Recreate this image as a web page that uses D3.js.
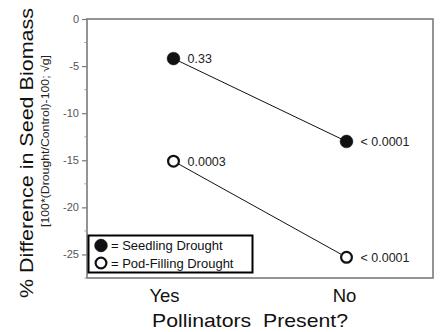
<!DOCTYPE html>
<html>
<head>
<meta charset="utf-8">
<script src="https://cdn.jsdelivr.net/npm/d3@7"></script>
<style>
  body { margin: 0; background: #fff; }
  text { font-family: "Liberation Sans", Arial, sans-serif; }
</style>
</head>
<body>
<div id="chart"></div>
<script>
// data
var categories = ["Yes", "No"];
var seedlingValues = [-4.2, -13.0];
var podFillingValues = [-15.1, -25.3];
var seedlingLabels = ["0.33", "< 0.0001"];
var podFillingLabels = ["0.0003", "< 0.0001"];
var yTicks = [0, -5, -10, -15, -20, -25];
var yMinorTicks = [-2.5, -7.5, -12.5, -17.5, -22.5, -27.5];

var width = 440, height = 332;
var margin = { top: 19, right: 7, bottom: 54, left: 87 };

var svg = d3.select("#chart").append("svg")
    .attr("width", width)
    .attr("height", height);

var x = d3.scalePoint()
    .domain(categories)
    .range([margin.left, width - margin.right])
    .padding(0.5);

var y = d3.scaleLinear()
    .domain([-27.5, 0])
    .range([height - margin.bottom, margin.top]);

// frame
svg.append("rect")
    .attr("x", margin.left)
    .attr("y", margin.top)
    .attr("width", width - margin.left - margin.right)
    .attr("height", height - margin.top - margin.bottom)
    .attr("fill", "none")
    .attr("stroke", "#7a7a7a")
    .attr("stroke-width", 1.6);

// y axis
var yAxis = svg.append("g")
    .attr("transform", "translate(" + margin.left + ",0)")
    .call(d3.axisLeft(y).tickValues(yTicks).tickSize(5).tickPadding(3).tickFormat(d => String(d)));
yAxis.select(".domain").remove();
yAxis.selectAll(".tick line").attr("stroke", "#7a7a7a").attr("stroke-width", 1.2);
yAxis.selectAll(".tick text")
    .attr("fill", "#555")
    .style("font-size", "11px")
    .style("font-family", "Liberation Sans, Arial, sans-serif");

svg.append("g").selectAll("line")
    .data(yMinorTicks)
    .enter().append("line")
    .attr("x1", margin.left - 2.5)
    .attr("x2", margin.left)
    .attr("y1", d => y(d))
    .attr("y2", d => y(d))
    .attr("stroke", "#9a9a9a")
    .attr("stroke-width", 1);

// series
var series = [
    { values: seedlingValues, labels: seedlingLabels, filled: true },
    { values: podFillingValues, labels: podFillingLabels, filled: false }
];

series.forEach(function(s) {
    var pts = s.values.map((v, i) => ({ cat: categories[i], v: v, label: s.labels[i] }));
    var g = svg.append("g");

    g.append("path")
        .attr("d", d3.line().x(d => x(d.cat)).y(d => y(d.v))(pts))
        .attr("fill", "none")
        .attr("stroke", "#111")
        .attr("stroke-width", 1);

    g.selectAll("circle")
        .data(pts)
        .enter().append("circle")
        .attr("cx", d => x(d.cat))
        .attr("cy", d => y(d.v))
        .attr("r", s.filled ? 6.4 : 5.4)
        .attr("fill", s.filled ? "#111" : "#fff")
        .attr("stroke", "#111")
        .attr("stroke-width", s.filled ? 0.5 : 2.2);

    g.selectAll("text")
        .data(pts)
        .enter().append("text")
        .attr("x", d => x(d.cat) + 14)
        .attr("y", d => y(d.v) + 4.5)
        .attr("fill", "#222")
        .style("font-size", "12.5px")
        .text(d => d.label);
});

// legend
var legend = svg.append("g");
legend.append("rect")
    .attr("x", 88.5)
    .attr("y", 235.5)
    .attr("width", 164)
    .attr("height", 37)
    .attr("fill", "#fff")
    .attr("stroke", "#000")
    .attr("stroke-width", 2);

var legendItems = [
    { text: "= Seedling Drought", filled: true },
    { text: "= Pod-Filling Drought", filled: false }
];
legendItems.forEach(function(d, i) {
    var cy = 245.5 + i * 17.5;
    legend.append("circle")
        .attr("cx", 101)
        .attr("cy", cy)
        .attr("r", d.filled ? 6.4 : 5.4)
        .attr("fill", d.filled ? "#111" : "#fff")
        .attr("stroke", "#111")
        .attr("stroke-width", d.filled ? 0.5 : 2.2);
    legend.append("text")
        .attr("x", 111)
        .attr("y", cy + 4.5)
        .attr("fill", "#111")
        .style("font-size", "13px")
        .text(d.text);
});

// x labels
var xLabelShift = [-9, -2];
svg.append("g").selectAll("text")
    .data(categories)
    .enter().append("text")
    .attr("x", (d, i) => x(d) + xLabelShift[i])
    .attr("y", 302)
    .attr("text-anchor", "middle")
    .attr("fill", "#111")
    .style("font-size", "18.5px")
    .text(d => d);

svg.append("text")
    .attr("x", 152)
    .attr("y", 327)
    .attr("fill", "#111")
    .style("font-size", "19px")
    .attr("textLength", 196)
    .attr("lengthAdjust", "spacingAndGlyphs")
    .attr("xml:space", "preserve")
    .text("Pollinators  Present?");

// y titles
svg.append("text")
    .attr("transform", "translate(33,298) rotate(-90)")
    .attr("fill", "#111")
    .style("font-size", "19px")
    .attr("textLength", 290)
    .attr("lengthAdjust", "spacingAndGlyphs")
    .text("% Difference in Seed Biomass");

svg.append("text")
    .attr("transform", "translate(49,227) rotate(-90)")
    .attr("fill", "#222")
    .style("font-size", "11px")
    .attr("textLength", 172)
    .attr("lengthAdjust", "spacingAndGlyphs")
    .text("[100*(Drought/Control)-100; \u221Ag]");
</script>
</body>
</html>
